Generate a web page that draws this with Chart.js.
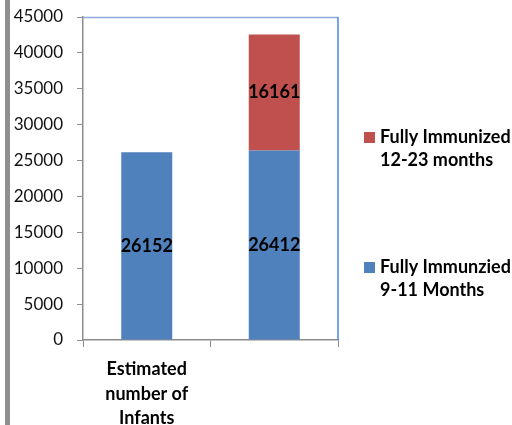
<!DOCTYPE html>
<html>
<head>
<meta charset="utf-8">
<script src="https://cdn.jsdelivr.net/npm/chart.js@4/dist/chart.umd.min.js"></script>
<style>
html,body{margin:0;padding:0;background:#fff;}
#wrap{position:relative;width:512px;height:425px;}
</style>
</head>
<body>
<div id="wrap"><canvas id="c" width="512" height="425"></canvas></div>
<script>
const categories = [["Estimated", "number of", "Infants"], ""];
const seriesNames = [["Fully Immunzied", "9-11 Months"], ["Fully Immunized", "12-23 months"]];
const infants911 = [26152, 26412];
const infants1223 = [null, 16161];
const yTicks = [0, 5000, 10000, 15000, 20000, 25000, 30000, 35000, 40000, 45000];
const BLUE = '#4F81BD', RED = '#C0504D';
const FONT = 'Lato, "Liberation Sans", sans-serif';

const decor = {
  id: 'decor',
  beforeDraw(chart) {
    const ctx = chart.ctx;
    ctx.save();
    ctx.fillStyle = '#8f8f8f';
    ctx.fillRect(5, 0, 5, 425);
    ctx.restore();
  },
  afterDatasetsDraw(chart) {
    const ctx = chart.ctx, a = chart.chartArea;
    ctx.save();
    ctx.strokeStyle = '#8eaadb';
    ctx.lineWidth = 1.5;
    ctx.beginPath();
    ctx.moveTo(a.left, a.top + 0.5);
    ctx.lineTo(a.right, a.top + 0.5);
    ctx.stroke();
    ctx.strokeStyle = '#4a86e8';
    ctx.beginPath();
    ctx.moveTo(a.right, a.top);
    ctx.lineTo(a.right, a.bottom);
    ctx.stroke();
    ctx.fillStyle = '#000';
    ctx.font = 'bold 18px ' + FONT;
    ctx.textAlign = 'center';
    ctx.textBaseline = 'middle';
    chart.data.datasets.forEach((ds, i) => {
      const meta = chart.getDatasetMeta(i);
      meta.data.forEach((bar, j) => {
        const v = ds.data[j];
        if (v == null) return;
        ctx.fillText(String(v), bar.x, (bar.y + bar.base) / 2);
      });
    });
    const items = [
      {color: RED, text: seriesNames[1], y: 137},
      {color: BLUE, text: seriesNames[0], y: 267}
    ];
    ctx.textAlign = 'left';
    ctx.font = 'bold 18px ' + FONT;
    items.forEach(it => {
      ctx.fillStyle = it.color;
      ctx.fillRect(364, it.y - 5, 11, 11);
      ctx.fillStyle = '#000';
      it.text.forEach((t, k) => ctx.fillText(t, 380, it.y + k * 23));
    });
    ctx.restore();
  }
};

new Chart(document.getElementById('c'), {
  type: 'bar',
  data: {
    labels: categories,
    datasets: [
      {label: 'Fully Immunzied 9-11 Months', data: infants911, backgroundColor: BLUE, barPercentage: 0.8, categoryPercentage: 0.5},
      {label: 'Fully Immunized 12-23 months', data: infants1223, backgroundColor: RED, barPercentage: 0.8, categoryPercentage: 0.5}
    ]
  },
  options: {
    responsive: false,
    animation: false,
    devicePixelRatio: 1,
    layout: {padding: {left: 0, right: 174, top: 17, bottom: 0}},
    plugins: {legend: {display: false}, tooltip: {enabled: false}},
    scales: {
      x: {
        stacked: true,
        grid: {display: true, drawOnChartArea: false, drawTicks: true, tickLength: 7, color: '#8c8c8c', offset: true},
        border: {color: '#8c8c8c', width: 1.5},
        ticks: {color: '#000', font: {family: FONT, weight: 'bold', size: 18, lineHeight: '24.5px'}, padding: 10, maxRotation: 0, autoSkip: false},
        afterFit(s) { s.height = 85; s.paddingLeft = 0; s.paddingRight = 0; }
      },
      y: {
        stacked: true,
        min: 0, max: 45000,
        afterBuildTicks(s) { s.ticks = yTicks.map(v => ({value: v})); },
        grid: {display: true, drawOnChartArea: false, drawTicks: true, tickLength: 6, color: '#8c8c8c'},
        border: {color: '#8c8c8c', width: 1.5},
        ticks: {color: '#111', font: {family: FONT, size: 17}, padding: 14, callback: v => String(v)},
        afterFit(s) { s.width = 83; s.paddingTop = 0; s.paddingBottom = 0; }
      }
    }
  },
  plugins: [decor]
});
</script>
</body>
</html>
